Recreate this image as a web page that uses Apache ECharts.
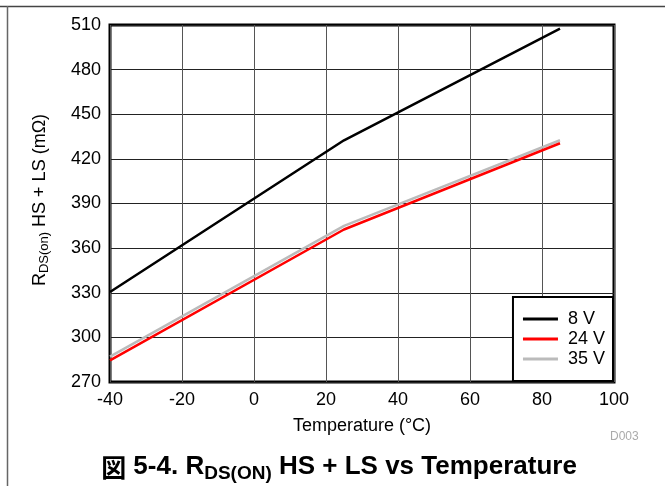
<!DOCTYPE html>
<html>
<head>
<meta charset="utf-8">
<script src="https://cdn.jsdelivr.net/npm/echarts@6/dist/echarts.min.js"></script>
<style>
  html, body { margin: 0; padding: 0; background: #fff; }
  #chart { width: 665px; height: 486px; }
</style>
</head>
<body>
<div id="chart"></div>
<script>
  // 温度点 (°C)
  var temps = [-40, 25, 85];
  // RDS(on) HS + LS (mΩ)
  var v8 = [330.5, 432.5, 507.5];
  var v24 = [284.5, 372.5, 430.5];
  var v35 = [287, 375, 432.5];
  var seriesNames = ['8 V', '24 V', '35 V'];
  var seriesColors = ['#000000', '#ff0000', '#bbbbbb'];

  function pairs(vals) {
    var out = [];
    for (var i = 0; i < temps.length; i++) out.push([temps[i], vals[i]]);
    return out;
  }

  var font = '"Liberation Sans", Arial, sans-serif';
  var myChart = echarts.init(document.getElementById('chart'));
  var allVals = [v8, v24, v35];
  var z = [3, 4, 2];
  var series = allVals.map(function (vals, i) {
    return {
      name: seriesNames[i],
      type: 'line',
      data: pairs(vals),
      showSymbol: false,
      symbol: 'none',
      z: z[i],
      lineStyle: { color: seriesColors[i], width: 2.5 },
      itemStyle: { color: seriesColors[i] }
    };
  });

  var option = {
    animation: false,
    backgroundColor: '#fff',
    grid: {
      left: 110, right: 51, top: 25, bottom: 104,
      show: true, borderColor: '#000', borderWidth: 3, backgroundColor: 'transparent'
    },
    legend: {
      data: seriesNames,
      orient: 'vertical',
      right: 52, bottom: 105,
      backgroundColor: '#fff',
      borderColor: '#000',
      borderWidth: 2,
      padding: [13, 8, 13, 10],
      itemGap: 2,
      itemWidth: 35,
      itemHeight: 3,
      icon: 'rect',
      textStyle: { fontFamily: font, fontSize: 18, lineHeight: 18, color: '#000', padding: [0, 0, 0, 5] },
      z: 10
    },
    xAxis: {
      type: 'value',
      min: -40, max: 100, interval: 20,
      name: 'Temperature (°C)',
      nameLocation: 'middle',
      nameGap: 35,
      nameTextStyle: { fontFamily: font, fontSize: 18, color: '#000' },
      axisLine: { show: false },
      axisTick: { show: false },
      axisLabel: { fontFamily: font, fontSize: 18, color: '#000', margin: 9 },
      splitLine: { lineStyle: { color: '#555', width: 1 } }
    },
    yAxis: {
      type: 'value',
      min: 270, max: 510, interval: 30,
      axisLine: { show: false },
      axisTick: { show: false },
      axisLabel: { fontFamily: font, fontSize: 18, color: '#000', margin: 9 },
      splitLine: { lineStyle: { color: '#222', width: 1 } }
    },
    graphic: [
      { type: 'line', shape: { x1: 0, y1: 6.5, x2: 665, y2: 6.5 }, style: { stroke: '#444', lineWidth: 1.5 } },
      { type: 'line', shape: { x1: 7.5, y1: 6, x2: 7.5, y2: 486 }, style: { stroke: '#666', lineWidth: 1.5 } },
      {
        type: 'text', x: 40, y: 200, rotation: Math.PI / 2,
        style: {
          text: '{m|R}{s|DS(on)}{m| HS + LS (mΩ)}',
          align: 'center', verticalAlign: 'middle',
          rich: {
            m: { fontFamily: font, fontSize: 18, fill: '#000' },
            s: { fontFamily: font, fontSize: 13, fill: '#000', padding: [9, 0, 0, 0] }
          }
        }
      },
      {
        type: 'text', left: 610, top: 431,
        style: { text: 'D003', fontFamily: font, fontSize: 12, fill: '#aaa' }
      },
      {
        type: 'text', x: 339, y: 467,
        style: {
          text: '{c|図}{b| 5-4. R}{s|DS(ON)}{b| HS + LS vs Temperature}',
          align: 'center', verticalAlign: 'middle',
          rich: {
            c: { fontFamily: '"Noto Sans CJK JP"', fontWeight: 'bold', fontSize: 25, fill: '#000' },
            b: { fontFamily: font, fontWeight: 'bold', fontSize: 26, fill: '#000' },
            s: { fontFamily: font, fontWeight: 'bold', fontSize: 19, fill: '#000', padding: [14, 0, 0, 0] }
          }
        }
      }
    ],
    series: series
  };

  myChart.setOption(option);
</script>
</body>
</html>
